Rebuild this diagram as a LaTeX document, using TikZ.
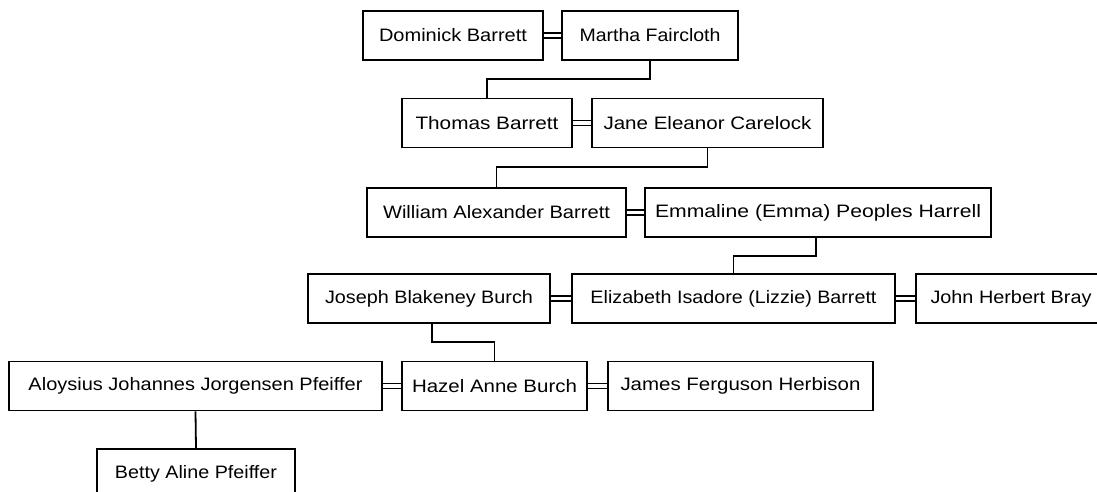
\documentclass[tikz,border=0pt]{standalone}
\usepackage{fontspec}
\usepackage{graphicx}
\setmainfont{Liberation Sans}
\newcommand{\fitw}[2]{\resizebox{#1pt}{\height}{#2}}
\begin{document}
\begin{tikzpicture}[x=1pt,y=-1pt,
  person/.style={draw=black,line width=1.8pt,rectangle,minimum height=49pt,inner sep=0pt,
    font=\fontsize{18}{21}\selectfont,fill=white},
  link/.style={draw=black,line width=1.8pt},
  spouse/.style={draw=black,line width=1.4pt}]
\useasboundingbox (0,0) rectangle (1097,492);
\fill[white] (0,0) rectangle (1097,492);
\clip (0,0) rectangle (1097,492);
% row 1
\node[person,minimum width=180pt] (dominick) at (453,35.5) {\fitw{148}{Dominick Barrett}};
\node[person,minimum width=176pt] (martha) at (650,35.5) {\fitw{141}{Martha Faircloth}};
% row 2
\node[person,minimum width=170pt] (thomas) at (487,123) {\fitw{143}{Thomas Barrett}};
\node[person,minimum width=231pt] (jane) at (707.5,123) {\fitw{208}{Jane Eleanor Carelock}};
% row 3
\node[person,minimum width=259pt] (william) at (496.5,212.5) {\fitw{227}{William Alexander Barrett}};
\node[person,minimum width=346pt] (emmaline) at (818,212.5) {\fitw{326}{Emmaline (Emma) Peoples Harrell}};
% row 4
\node[person,minimum width=242pt] (joseph) at (429,298.5) {\fitw{208}{Joseph Blakeney Burch}};
\node[person,minimum width=323pt] (elizabeth) at (733.5,298.5) {\fitw{286}{Elizabeth Isadore (Lizzie) Barrett}};
\node[person,minimum width=190pt] (john) at (1011,298.5) {\fitw{161}{John Herbert Bray}};
% row 5
\node[person,minimum width=373pt] (aloysius) at (195.5,386) {\fitw{334}{Aloysius Johannes Jorgensen Pfeiffer}};
\node[person,minimum width=185pt] (hazel) at (494.5,386) {\fitw{165}{Hazel Anne Burch}};
\node[person,minimum width=265pt] (james) at (740.5,386) {\fitw{240}{James Ferguson Herbison}};
% row 6
\node[person,minimum width=198pt] (betty) at (196,473.5) {\fitw{162}{Betty Aline Pfeiffer}};
% spouse links
\foreach \a/\b in {dominick/martha,thomas/jane,william/emmaline,joseph/elizabeth,elizabeth/john,aloysius/hazel,hazel/james}{
  \draw[spouse] ([yshift=2.6pt]\a.east) -- ([yshift=2.6pt]\b.west);
  \draw[spouse] ([yshift=-2.6pt]\a.east) -- ([yshift=-2.6pt]\b.west);
}
% descent links
\draw[link] (martha.south) -- (martha.south |- 0,79) -- (thomas.north |- 0,79) -- (thomas.north);
\draw[link] (jane.south) -- (jane.south |- 0,167) -- (william.north |- 0,167) -- (william.north);
\draw[link] (emmaline.south -| 816,0) -- (816,256) -- (elizabeth.north |- 0,256) -- (elizabeth.north);
\draw[link] (joseph.south -| 432,0) -- (432,342) -- (hazel.north |- 0,342) -- (hazel.north);
\draw[link] (aloysius.south) -- (betty.north);
\end{tikzpicture}
\end{document}
